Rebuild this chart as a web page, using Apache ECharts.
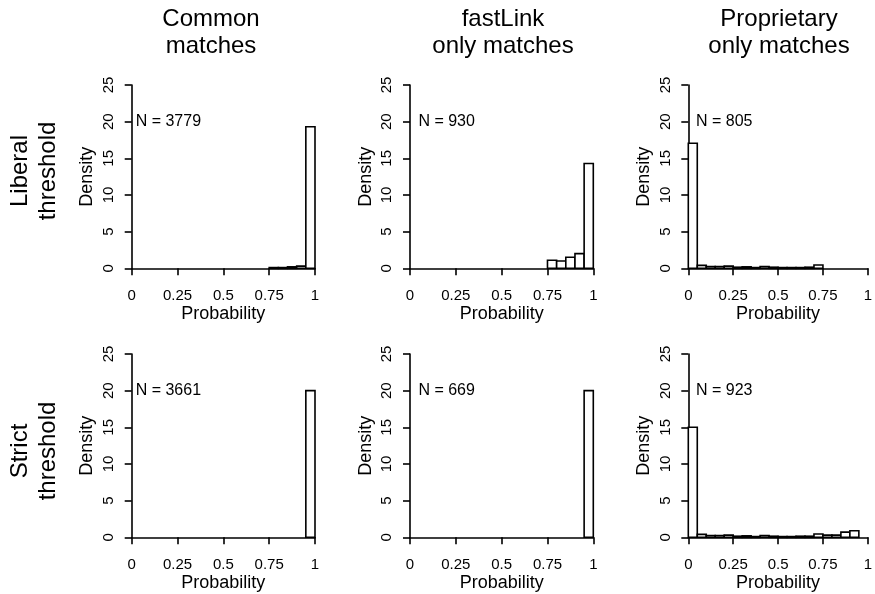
<!DOCTYPE html>
<html>
<head>
<meta charset="utf-8">
<script src="https://cdn.jsdelivr.net/npm/echarts@6/dist/echarts.min.js"></script>
<style>
  html, body { margin: 0; padding: 0; background: #fff; }
  #chart { width: 875px; height: 594px; }
</style>
</head>
<body>
<div id="chart"></div>
<script>
// histogram bin edges (width 0.05)
const binEdges = [0, 0.05, 0.1, 0.15, 0.2, 0.25, 0.3, 0.35, 0.4, 0.45, 0.5,
                  0.55, 0.6, 0.65, 0.7, 0.75, 0.8, 0.85, 0.9, 0.95, 1];

// densities per bin, null = bin not drawn
const commonLiberal   = [null, null, null, null, null, null, null, null, null, null,
                         null, null, null, null, null, 0.1, 0.1, 0.2, 0.3, 19.3];
const fastLinkLiberal = [null, null, null, null, null, null, null, null, null, null,
                         null, null, null, null, null, 1.1, 1.0, 1.5, 2.0, 14.3];
const propLiberal     = [17.05, 0.4, 0.25, 0.25, 0.3, 0.15, 0.2, 0.1, 0.25, 0.15,
                         0.1, 0.1, 0.1, 0.15, 0.45, null, null, null, null, null];
const commonStrict    = [null, null, null, null, null, null, null, null, null, null,
                         null, null, null, null, null, null, null, null, null, 20];
const fastLinkStrict  = [null, null, null, null, null, null, null, null, null, null,
                         null, null, null, null, null, null, null, null, null, 20];
const propStrict      = [15.0, 0.4, 0.25, 0.25, 0.3, 0.15, 0.2, 0.1, 0.25, 0.15,
                         0.1, 0.1, 0.15, 0.15, 0.45, 0.3, 0.3, 0.7, 0.9, null];

const nCounts = [3779, 930, 805, 3661, 669, 923];
const xTickLabels = ['0', '0.25', '0.5', '0.75', '1'];
const yTickLabels = ['0', '5', '10', '15', '20', '25'];
const colTitles = [['Common', 'matches'], ['fastLink', 'only matches'], ['Proprietary', 'only matches']];
const rowTitles = [['Liberal', 'threshold'], ['Strict', 'threshold']];

const panels = [commonLiberal, fastLinkLiberal, propLiberal, commonStrict, fastLinkStrict, propStrict];

const FONT = '"Liberation Sans", Arial, Helvetica, sans-serif';
const colLeft = [131.7, 410, 688.3];
const rowTop = [85, 354];
const plotSize = 183.3;
const titleX = [211, 503, 779];
const rowY = [171, 451];

const chart = echarts.init(document.getElementById('chart'));

function renderBin(params, api) {
    const p0 = api.coord([api.value(0), api.value(2)]);
    const p1 = api.coord([api.value(1), 0]);
    return {
        type: 'rect',
        shape: { x: p0[0], y: p0[1], width: p1[0] - p0[0], height: p1[1] - p0[1] },
        style: { fill: '#fff', stroke: '#000', lineWidth: 1.6 }
    };
}

function renderCount(params, api) {
    const p = api.coord([api.value(0), api.value(1)]);
    return {
        type: 'text', x: p[0], y: p[1],
        style: {
            text: 'N = ' + api.value(2), fill: '#000', font: '16px ' + FONT,
            align: 'center', verticalAlign: 'middle'
        }
    };
}

const grid = [], xAxis = [], yAxis = [], series = [];
panels.forEach((dens, i) => {
    const r = Math.floor(i / 3), c = i % 3;
    grid.push({ left: colLeft[c], top: rowTop[r], width: plotSize, height: plotSize });
    xAxis.push({
        gridIndex: i, type: 'value', min: 0, max: 1, interval: 0.25,
        position: 'bottom', offset: 7.5,
        axisLine: { show: true, lineStyle: { color: '#000', width: 1.6 } },
        axisTick: { show: true, length: 7, lineStyle: { color: '#000', width: 1.6 } },
        splitLine: { show: false },
        axisLabel: {
            color: '#000', fontSize: 15, fontFamily: FONT, margin: 13,
            formatter: v => xTickLabels[Math.round(v / 0.25)]
        },
        name: 'Probability', nameLocation: 'middle', nameGap: 27,
        nameTextStyle: { color: '#000', fontSize: 18, fontFamily: FONT }
    });
    yAxis.push({
        gridIndex: i, type: 'value', min: 0, max: 25, interval: 5,
        position: 'left', offset: 7.3,
        axisLine: { show: true, lineStyle: { color: '#000', width: 1.6 } },
        axisTick: { show: true, length: 7, lineStyle: { color: '#000', width: 1.6 } },
        splitLine: { show: false },
        axisLabel: {
            color: '#000', fontSize: 15, fontFamily: FONT, margin: 8, rotate: 90,
            formatter: v => yTickLabels[Math.round(v / 5)]
        },
        name: 'Density', nameLocation: 'middle', nameGap: 28, nameRotate: 90,
        nameTextStyle: { color: '#000', fontSize: 18, fontFamily: FONT }
    });
    const data = [];
    dens.forEach((d, k) => {
        if (d !== null) data.push([binEdges[k], binEdges[k + 1], d]);
    });
    series.push({
        type: 'custom', xAxisIndex: i, yAxisIndex: i,
        renderItem: renderBin, encode: { x: [0, 1], y: 2 }, data: data
    });
    series.push({
        type: 'custom', xAxisIndex: i, yAxisIndex: i,
        renderItem: renderCount, encode: { x: 0, y: 1 },
        data: [[0.2, 20, nCounts[i]]]
    });
});

const graphic = [];
colTitles.forEach((lines, c) => {
    lines.forEach((t, j) => {
        graphic.push({
            type: 'text', x: titleX[c], y: 19.5 + j * 26.6,
            style: { text: t, fill: '#000', font: '24px ' + FONT, align: 'center', verticalAlign: 'middle' }
        });
    });
});
rowTitles.forEach((lines, r) => {
    lines.forEach((t, j) => {
        graphic.push({
            type: 'text', x: 20 + j * 28.5, y: rowY[r], rotation: Math.PI / 2,
            style: { text: t, fill: '#000', font: '24px ' + FONT, align: 'center', verticalAlign: 'middle' }
        });
    });
});

chart.setOption({
    animation: false,
    backgroundColor: '#fff',
    grid: grid,
    xAxis: xAxis,
    yAxis: yAxis,
    series: series,
    graphic: graphic
});
</script>
</body>
</html>
